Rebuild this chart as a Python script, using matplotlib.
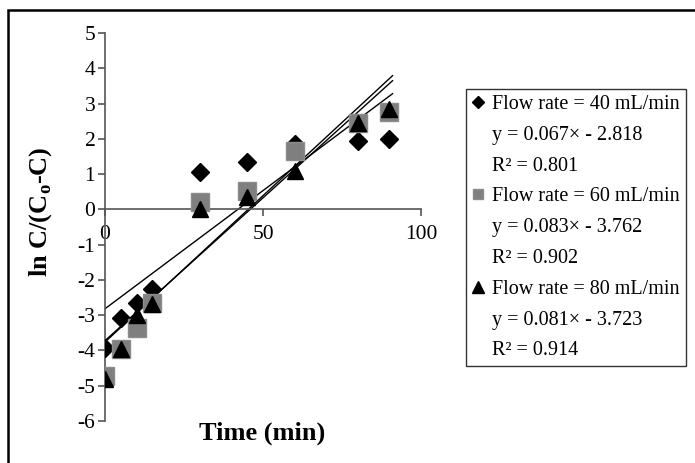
import numpy as np
import matplotlib.pyplot as plt
from matplotlib.lines import Line2D
from matplotlib.patches import Rectangle

plt.rcParams['font.family'] = ['Liberation Serif', 'DejaVu Serif']
plt.rcParams['mathtext.fontset'] = 'custom'
plt.rcParams['mathtext.rm'] = 'Liberation Serif'
plt.rcParams['mathtext.bf'] = 'Liberation Serif:bold'
plt.rcParams['axes.unicode_minus'] = False

# time (min)
t = [0, 5, 10, 15, 30, 45, 60, 80, 90]
# ln C/(Co-C) for each flow rate
y40 = [-3.92, -3.09, -2.66, -2.27, 1.07, 1.33, 1.85, 1.95, 2.0]
y60 = [-4.72, -3.95, -3.35, -2.65, 0.2, 0.52, 1.65, 2.45, 2.75]
y80 = [-4.8, -3.95, -3.0, -2.68, 0.0, 0.35, 1.08, 2.45, 2.85]

# linear fits as printed in the legend
fits = [(0.067, -2.818, 0.801), (0.083, -3.762, 0.902), (0.081, -3.723, 0.914)]
rates = [40, 60, 80]

fig = plt.figure(figsize=(6.95, 4.63), dpi=100)
ax = fig.add_axes([105 / 695, 1 - 421 / 463, 316 / 695, 388 / 463])

ax.plot(t, y40, 'D', color='black', ms=9, zorder=3)
ax.plot(t, y60, 's', color='#7f7f7f', mec='#8c8c8c', ms=13, zorder=4)
ax.plot(t, y80, '^', color='black', ms=11.5, zorder=5)

xs = np.array([0, 91])
for m, b, r2 in fits:
    ax.plot(xs, m * xs + b, color='black', lw=1.0, zorder=2)

ax.set_xlim(0, 100)
ax.set_ylim(-6, 5)
ax.set_xticks([0, 50, 100])
ax.set_yticks(range(-6, 6))
ax.spines['left'].set_position(('data', 0))
ax.spines['bottom'].set_position(('data', 0))
ax.spines['top'].set_visible(False)
ax.spines['right'].set_visible(False)
for s in ['left', 'bottom']:
    ax.spines[s].set_color('#555555')
    ax.spines[s].set_linewidth(1.2)
ax.tick_params(axis='both', direction='out', length=5, width=1.2, color='#555555',
               labelsize=15.5, labelcolor='black')
ax.tick_params(axis='x', pad=6)
ax.tick_params(axis='y', pad=2)
ax.patch.set_visible(False)

fig.text(262 / 695, 1 - 433 / 463, 'Time (min)', ha='center', va='center',
         fontsize=19, fontweight='bold')
fig.text(41 / 695, 1 - 212 / 463, r'ln C/(C$_\mathbf{o}$-C)', ha='center', va='center',
         rotation=90, fontsize=19, fontweight='bold')

# legend
handles = []
labels = []
styles = [dict(marker='D', color='black', ms=6),
          dict(marker='s', color='#7f7f7f', mec='#8c8c8c', ms=7),
          dict(marker='^', color='black', ms=8)]
blank = Line2D([], [], linestyle='none', marker=None)
for rate, (m, b, r2), st in zip(rates, fits, styles):
    handles.append(Line2D([], [], linestyle='none', **st))
    labels.append(f'Flow rate = {rate} mL/min')
    handles.append(blank)
    labels.append(f'y = {m:.3f}\u00d7 - {abs(b):.3f}')
    handles.append(blank)
    labels.append(f'R\u00b2 = {r2:.3f}')
leg = fig.legend(handles, labels, loc='upper left',
                 bbox_to_anchor=(466 / 695, 1 - 89 / 463),
                 fontsize=14.5, frameon=True, fancybox=False, edgecolor='black',
                 handlelength=0.6, handletextpad=0.4, labelspacing=0.58,
                 borderpad=0.3, borderaxespad=0)
leg.get_frame().set_linewidth(1.0)

# outer frame
fig.patches.append(Rectangle((8 / 695, -0.05), 1.0, 1 - 10 / 463 + 0.05,
                             transform=fig.transFigure, fill=False,
                             edgecolor='black', lw=1.8))

fig.savefig('out.png', dpi=100)
